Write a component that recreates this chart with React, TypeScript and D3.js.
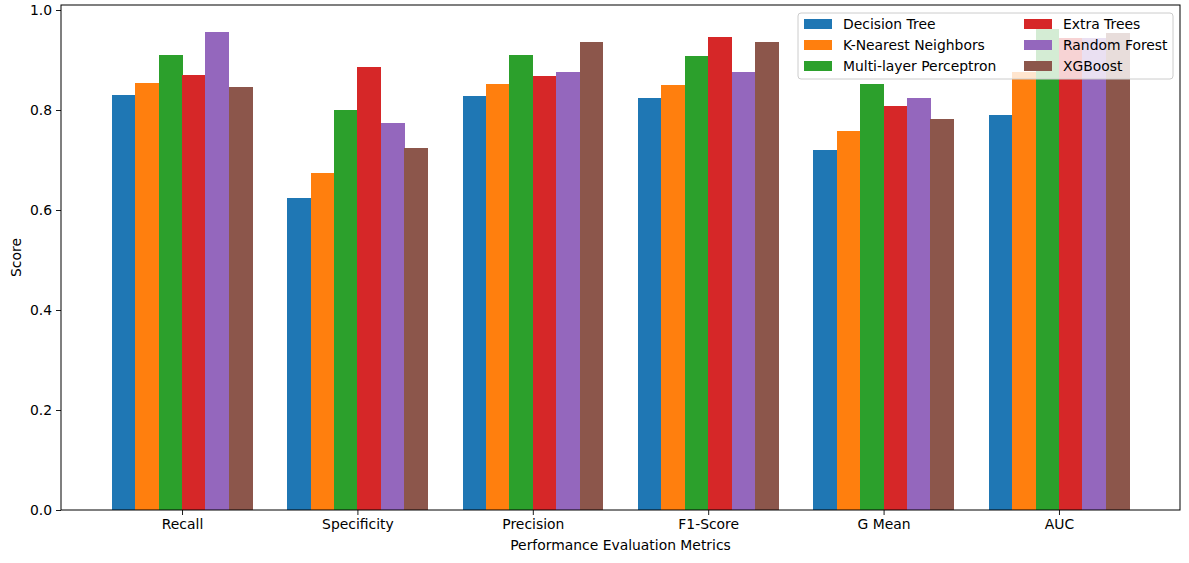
import React, { useRef, useEffect } from 'react';
import * as d3 from 'd3';

// Metrics on the x axis
const metrics = ['Recall', 'Specificity', 'Precision', 'F1-Score', 'G Mean', 'AUC'];

// Models (series) and their colours
const models = [
  'Decision Tree',
  'K-Nearest Neighbors',
  'Multi-layer Perceptron',
  'Extra Trees',
  'Random Forest',
  'XGBoost',
];
const colors = ['#1f77b4', '#ff7f0e', '#2ca02c', '#d62728', '#9467bd', '#8c564b'];

// Scores per model, one value per metric
const decisionTree = [0.83, 0.624, 0.828, 0.824, 0.72, 0.79];
const knn = [0.854, 0.674, 0.852, 0.85, 0.758, 0.876];
const mlp = [0.91, 0.8, 0.91, 0.908, 0.852, 0.962];
const extraTrees = [0.87, 0.886, 0.868, 0.946, 0.808, 0.944];
const randomForest = [0.956, 0.774, 0.876, 0.876, 0.824, 0.944];
const xgboost = [0.846, 0.724, 0.936, 0.936, 0.782, 0.954];
const seriesValues = [decisionTree, knn, mlp, extraTrees, randomForest, xgboost];

const yTicks = [0, 0.2, 0.4, 0.6, 0.8, 1.0];

const App = () => {
  const ref = useRef<SVGSVGElement>(null);

  useEffect(() => {
    document.body.style.margin = '0';
    const svg = d3.select(ref.current);
    svg.selectAll('*').remove();

    const width = 1189;
    const height = 563;
    const m = { left: 61, right: 9, top: 5, bottom: 53 };
    const font = 'DejaVu Sans, sans-serif';
    const fs = 13.9;

    const barW = 0.8 / models.length;
    const x = d3.scaleLinear().domain([-0.69, metrics.length - 1 + 0.69]).range([m.left, width - m.right]);
    const y = d3.scaleLinear().domain([0, 1.01]).range([height - m.bottom, m.top]);

    // Bars
    seriesValues.forEach((vals, si) => {
      svg.append('g')
        .attr('shape-rendering', 'crispEdges')
        .selectAll('rect')
        .data(vals)
        .enter()
        .append('rect')
        .attr('x', (_, i) => x(i - 0.4 + si * barW))
        .attr('width', x(barW) - x(0) + 0.5)
        .attr('y', d => y(d))
        .attr('height', d => y(0) - y(d))
        .attr('fill', colors[si]);
    });

    // Axes
    const xAxis = d3.axisBottom(x)
      .tickValues(d3.range(metrics.length))
      .tickFormat(i => metrics[i as number])
      .tickSizeOuter(0)
      .tickSize(5)
      .tickPadding(4);
    const gx = svg.append('g').attr('transform', `translate(0,${height - m.bottom})`).call(xAxis);

    const yAxis = d3.axisLeft(y)
      .tickValues(yTicks)
      .tickFormat(d3.format('.1f'))
      .tickSizeOuter(0)
      .tickSize(5)
      .tickPadding(4);
    const gy = svg.append('g').attr('transform', `translate(${m.left},0)`).call(yAxis);

    [gx, gy].forEach(g => {
      g.select('.domain').remove();
      g.selectAll('line').attr('stroke', '#000').attr('stroke-width', 0.9);
      g.selectAll('text').attr('font-family', font).attr('font-size', fs).attr('fill', '#000');
    });

    // Frame
    svg.append('rect')
      .attr('x', m.left)
      .attr('y', m.top)
      .attr('width', width - m.left - m.right)
      .attr('height', height - m.top - m.bottom)
      .attr('fill', 'none')
      .attr('stroke', '#000')
      .attr('stroke-width', 1);

    // Axis titles
    svg.append('text')
      .attr('x', (m.left + width - m.right) / 2)
      .attr('y', 550)
      .attr('text-anchor', 'middle')
      .attr('font-family', font)
      .attr('font-size', fs)
      .text('Performance Evaluation Metrics');

    svg.append('text')
      .attr('transform', `translate(21,${(m.top + height - m.bottom) / 2}) rotate(-90)`)
      .attr('text-anchor', 'middle')
      .attr('font-family', font)
      .attr('font-size', fs)
      .text('Score');

    // Legend
    const legend = svg.append('g');
    legend.append('rect')
      .attr('x', 798)
      .attr('y', 13)
      .attr('width', 375)
      .attr('height', 66)
      .attr('rx', 3)
      .attr('fill', 'rgba(255,255,255,0.8)')
      .attr('stroke', '#cccccc')
      .attr('stroke-width', 1);

    models.forEach((name, i) => {
      const col = Math.floor(i / 3);
      const row = i % 3;
      const lx = col === 0 ? 804 : 1024;
      const ly = 24 + row * 21;
      legend.append('rect')
        .attr('x', lx)
        .attr('y', ly - 5)
        .attr('width', 28)
        .attr('height', 10)
        .attr('fill', colors[i]);
      legend.append('text')
        .attr('x', lx + 39)
        .attr('y', ly)
        .attr('dy', '0.35em')
        .attr('font-family', font)
        .attr('font-size', fs)
        .text(name);
    });
  }, []);

  return <svg ref={ref} width={1189} height={563} style={{ display: 'block' }} />;
};

export default App;
